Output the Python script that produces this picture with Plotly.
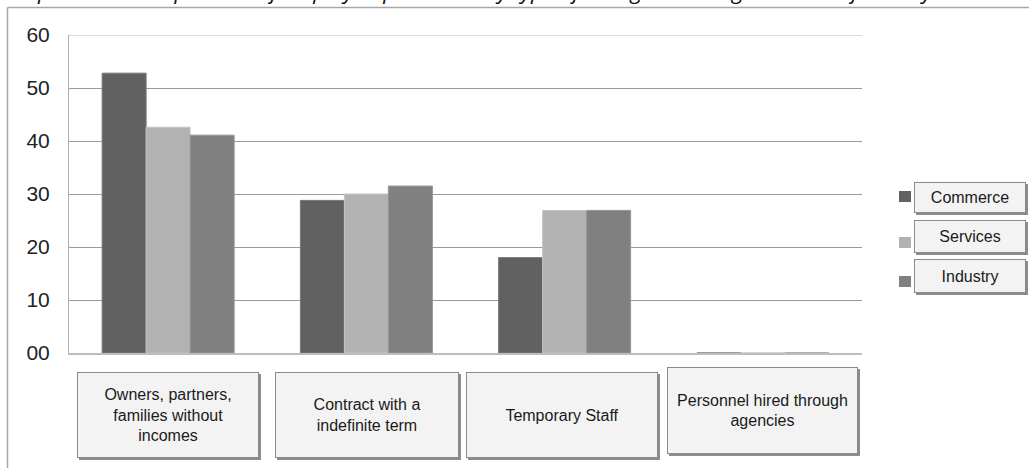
import plotly.graph_objects as go

# ---------------- data ----------------
categories = ["Owners, partners,<br>families without<br>incomes",
              "Contract with a<br>indefinite term",
              "Temporary Staff",
              "Personnel hired through<br>agencies"]
cat_keys = ["Owners", "Contract", "Temporary", "Agencies"]
series_names = ["Commerce", "Services", "Industry"]
commerce = [52.8, 28.8, 18.0, 0]
services = [42.6, 30.0, 26.9, 0]
industry = [41.1, 31.5, 26.9, 0]
tick_vals = [0, 10, 20, 30, 40, 50, 60]
tick_text = ["00", "10", "20", "30", "40", "50", "60"]
title_text = "Graph 2: The composition of employed personnel by type of hiring according to sector of activity"

colors = ["#616161", "#b2b2b2", "#808080"]
edge = ["#7a7a7a", "#c4c4c4", "#959595"]

W, H = 1029, 468
L, R, T, B = 69, 167, 35, 115
PW, PH = W - L - R, H - T - B


def px(x):
    return (x - L) / PW


def py(y):
    return (H - B - y) / PH


fig = go.Figure()
for name, vals, c, e in zip(series_names, [commerce, services, industry], colors, edge):
    fig.add_trace(go.Bar(x=cat_keys, y=vals, name=name, marker_color=c,
                         marker_line=dict(color=e, width=1)))

FONT = "Liberation Sans, Arial, sans-serif"

fig.update_layout(
    width=W, height=H,
    margin=dict(l=L, r=R, t=T, b=B),
    paper_bgcolor="white", plot_bgcolor="white",
    barmode="group", bargap=0.334, bargroupgap=0,
    showlegend=False,
    font=dict(family=FONT, color="#222"),
)
fig.update_yaxes(range=[0, 60], tickvals=tick_vals, ticktext=tick_text,
                 tickfont=dict(size=21, color="#222"), ticks="",
                 ticklabelstandoff=14,
                 showgrid=True, gridcolor="#9a9a9a", gridwidth=1,
                 showline=True, linecolor="#b0b0b0", linewidth=1,
                 zeroline=False)
fig.update_xaxes(range=[-0.5, 3.5], showticklabels=False, showgrid=False,
                 showline=True, linecolor="#bdbdbd", linewidth=2, ticks="")

shapes = []
annotations = []

# top gridline at the axis maximum
shapes.append(dict(type="line", xref="paper", yref="y", x0=0, x1=1,
                   y0=tick_vals[-1], y1=tick_vals[-1],
                   line=dict(color="#b5b5b5", width=1), layer="below"))

# outer chart border (left + top)
shapes.append(dict(type="line", xref="paper", yref="paper",
                   x0=px(7.5), x1=px(1040), y0=py(7.5), y1=py(7.5),
                   line=dict(color="#a8a8a8", width=1.5)))
shapes.append(dict(type="line", xref="paper", yref="paper",
                   x0=px(7.5), x1=px(7.5), y0=py(7.5), y1=py(480),
                   line=dict(color="#a8a8a8", width=1.5)))

# clipped title at the very top (only its lower edge shows, as in the source)
annotations.append(dict(text="<i>" + title_text + "</i>", xref="paper", yref="paper",
                        x=px(0), y=py(7), xanchor="left", yanchor="bottom",
                        showarrow=False, font=dict(size=22, color="#111", family="Open Sans")))

# category label boxes
box_w = [182, 184, 192, 191]
box_h = [86, 86, 86, 87]
box_cy = [415, 415, 415, 410.5]
box_dx = [0, 0.5, -2.5, -0.5]
for i, key in enumerate(cat_keys):
    common = dict(xref="x", yref="paper", x=key, y=py(box_cy[i]),
                  xanchor="center", yanchor="middle", showarrow=False,
                  width=box_w[i] - 2, height=box_h[i] - 2, borderpad=0,
                  align="center", valign="middle")
    annotations.append(dict(text="", bgcolor="#8c8c8c", bordercolor="#8c8c8c",
                            borderwidth=1, xshift=box_dx[i] + 2, yshift=-2, **common))
    annotations.append(dict(text=categories[i], bgcolor="#f3f3f3", bordercolor="#8a8a8a",
                            borderwidth=1, xshift=box_dx[i],
                            font=dict(size=16, color="#1a1a1a", family=FONT), **common))

# legend: squares + boxed names
leg_sq_cy = [196.5, 242.5, 281.5]
leg_box_cy = [197.5, 236.5, 276]
leg_box_h = [31, 33, 34]
for i, name in enumerate(series_names):
    shapes.append(dict(type="rect", xref="paper", yref="paper",
                       x0=px(899), x1=px(911), y0=py(leg_sq_cy[i] - 5.5), y1=py(leg_sq_cy[i] + 5.5),
                       fillcolor=colors[i], line=dict(width=0)))
    common = dict(xref="paper", yref="paper", x=px(970), y=py(leg_box_cy[i]),
                  xanchor="center", yanchor="middle", showarrow=False,
                  width=110, height=leg_box_h[i] - 2, borderpad=0)
    annotations.append(dict(text="", bgcolor="#8c8c8c", bordercolor="#8c8c8c",
                            borderwidth=1, xshift=2, yshift=-2, **common))
    annotations.append(dict(text=name, bgcolor="#f3f3f3", bordercolor="#8a8a8a",
                            borderwidth=1, font=dict(size=16, color="#1a1a1a", family=FONT),
                            **common))

fig.update_layout(shapes=shapes, annotations=annotations)

fig.write_html("out.html", config={"displayModeBar": False},
               post_script="document.body.style.margin='0';")
